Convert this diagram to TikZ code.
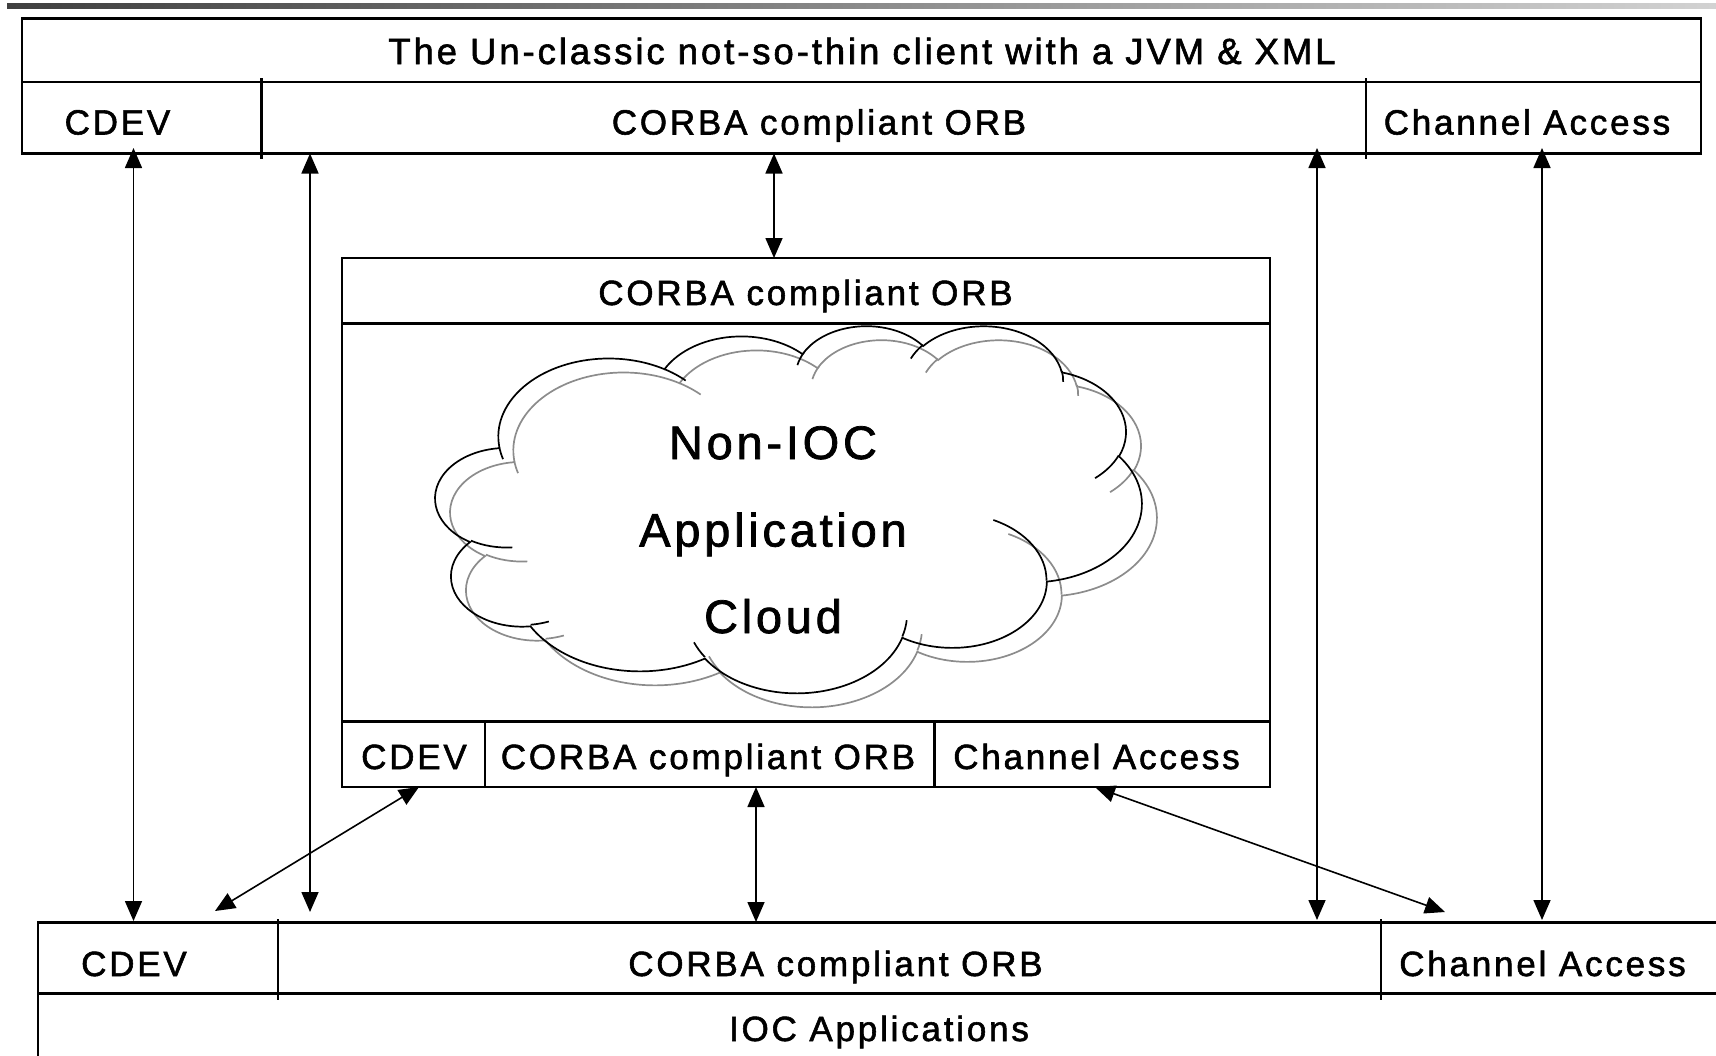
\documentclass[tikz,border=0pt]{standalone}
\usepackage{fontspec}
\setmainfont{Liberation Sans}[LetterSpace=8, FakeBold=1.6]
\usetikzlibrary{arrows.meta}
\def\cloudsx{1.634259}
\def\cloudsy{0.849537}
\pgfdeclarehorizontalshading{topbar}{100bp}{color(0bp)=(black!85); color(25bp)=(black!75); color(55bp)=(black!40); color(80bp)=(black!12); color(100bp)=(black!4)}
\newcommand\cldcalc[4]{%
  \pgfmathparse{atan2((#1)*sin(#3),(#2)*cos(#3))}\let\cTa\pgfmathresult
  \pgfmathparse{atan2((#1)*sin((#3)+(#4)),(#2)*cos((#3)+(#4)))}\let\cTb\pgfmathresult
  \pgfmathparse{\cTb+360*((#4)>0)*(\cTb<\cTa)-360*((#4)<0)*(\cTb>\cTa)}\let\cTb\pgfmathresult
  \pgfmathparse{0-(\cTa)}\xdef\cldA{\pgfmathresult}%
  \pgfmathparse{0-(\cTb)}\xdef\cldB{\pgfmathresult}%
  \pgfmathparse{(#1)*\cloudsx}\xdef\cldRX{\pgfmathresult}%
  \pgfmathparse{(#2)*\cloudsy}\xdef\cldRY{\pgfmathresult}}
\newcommand\cldarc[4]{\pgfextra{\cldcalc{#1}{#2}{#3}{#4}} arc[start angle=\cldA, end angle=\cldB, x radius=\cldRX pt, y radius=\cldRY pt]}
\newcommand\cloudpath[3]{%
\draw[#3] ({#1+39.00*\cloudsx},{#2+143.70*\cloudsy})
  \cldarc{67.53}{91.90}{-190.4875}{123.7805}
  \cldarc{53.33}{72.67}{-144.1024}{89.9452}
  \cldarc{43.65}{59.45}{-145.8079}{99.7230}
  \cldarc{48.57}{65.95}{-130.9861}{117.2417}
  \cldarc{53.33}{72.73}{-78.7089}{109.0269}
  \cldarc{67.75}{92.20}{-46.2673}{130.2690}
  \cldarc{57.85}{78.67}{0.6250}{114.0333}
  \cldarc{67.52}{92.15}{22.4516}{115.1726}
  \cldarc{77.20}{105.43}{66.2426}{75.7110}
  \cldarc{43.60}{59.18}{-274.9421}{146.7356}
  \cldarc{43.45}{59.45}{-246.8285}{152.5189}
  -- cycle;
\draw[#3]
  ({#1+46.93*\cloudsx},{#2+261.77*\cloudsy}) \cldarc{43.45}{59.45}{86.7420}{26.4295}
  ({#1+69.28*\cloudsx},{#2+348.99*\cloudsy}) \cldarc{43.60}{59.18}{73.6105}{11.4475}
  ({#1+164.78*\cloudsx},{#2+390.90*\cloudsy}) \cldarc{67.52}{92.15}{137.6242}{14.0811}
  ({#1+288.27*\cloudsx},{#2+347.51*\cloudsy}) \cldarc{67.52}{92.15}{6.4533}{15.9984}
  ({#1+341.29*\cloudsx},{#2+229.54*\cloudsy}) \cldarc{57.85}{78.67}{-70.2924}{70.9174}
  ({#1+417.98*\cloudsx},{#2+153.54*\cloudsy}) \cldarc{53.33}{72.73}{30.3180}{27.7515}
  ({#1+383.24*\cloudsx},{#2+54.26*\cloudsy}) \cldarc{48.57}{65.95}{-13.7443}{14.8589}
  ({#1+290.78*\cloudsx},{#2+39.52*\cloudsy}) \cldarc{48.57}{65.95}{-149.1815}{18.1954}
  ({#1+221.41*\cloudsx},{#2+47.20*\cloudsy}) \cldarc{43.65}{59.45}{-163.4943}{19.0160}
  ({#1+140.00*\cloudsx},{#2+51.92*\cloudsy}) \cldarc{67.53}{91.90}{-66.7070}{12.3194}
  ({#1+41.27*\cloudsx},{#2+157.89*\cloudsy}) \cldarc{67.53}{91.90}{157.6544}{11.8582};
}
\begin{document}
\begin{tikzpicture}[x=1pt,y=-1pt,
  box/.style={line width=2.2pt, draw=black},
  lbl/.style={anchor=base, inner sep=0pt, font=\fontsize{35}{42}\selectfont},
  ttl/.style={anchor=base, inner sep=0pt, font=\fontsize{36.5}{44}\selectfont},
  big/.style={anchor=base, inner sep=0pt, font=\fontsize{47}{56}\selectfont},
  dbl/.style={line width=1.6pt, {Triangle[length=20pt,width=17pt]}-{Triangle[length=20pt,width=17pt]}},
  cloudline/.style={line width=1.7pt, draw=black},
  cloudshadow/.style={line width=1.7pt, draw=black!45}]
\useasboundingbox (0,0) rectangle (1716,1055);
\clip (0,0) rectangle (1716,1055);
\shade[shading=topbar] (7,3) rectangle (1716,8);
% top box
\draw[box] (22,18.5) rectangle (1701,153.5);
\draw[box] (22,82) -- (1701,82);
\draw[box] (261.5,78) -- (261.5,159);
\draw[box] (1366,78) -- (1366,159);
% middle box
\draw[box] (342,258) rectangle (1270,787);
\draw[box] (342,323.5) -- (1270,323.5);
\draw[box] (342,721.5) -- (1270,721.5);
\draw[box] (485,721.5) -- (485,787);
\draw[box] (934.5,721.5) -- (934.5,787);
% bottom box
\draw[box] (1730,922.5) -- (38,922.5) -- (38,1062);
\draw[box] (38,993.5) -- (1730,993.5);
\draw[box] (278,919) -- (278,1000);
\draw[box] (1381,919) -- (1381,1000);
% cloud
\cloudpath{450.6}{339}{cloudshadow}
\cloudpath{435.6}{325}{cloudline}
% labels
\node[ttl] (title) at (862,64) {The Un-classic not-so-thin client with a JVM \& XML};
\node[lbl] (tcdev) at (117.5,134.5) {CDEV};
\node[lbl] (torb) at (819,134.5) {CORBA compliant ORB};
\node[lbl] (tca) at (1527,134.5) {Channel Access};
\node[lbl] (morbtop) at (805.5,305) {CORBA compliant ORB};
\node[lbl] (mcdev) at (414,769) {CDEV};
\node[lbl] (morb) at (708,769) {CORBA compliant ORB};
\node[lbl] (mca) at (1096.5,769) {Channel Access};
\node[big] (c1) at (773,459) {Non-IOC};
\node[big] (c2) at (773,546.5) {Application};
\node[big] (c3) at (773,633) {Cloud};
\node[lbl] (bcdev) at (134,976) {CDEV};
\node[lbl] (borb) at (835.5,976) {CORBA compliant ORB};
\node[lbl] (bca) at (1542.5,976) {Channel Access};
\node[lbl] (ioc) at (879,1041) {IOC Applications};
% arrow end points
\coordinate (a1t) at (133.5,148);  \coordinate (a1b) at (133.5,921);
\coordinate (a2t) at (310,153.5);  \coordinate (a2b) at (310,912);
\coordinate (a3t) at (774,153.5);  \coordinate (a3b) at (774,258);
\coordinate (a4t) at (1317,148);   \coordinate (a4b) at (1317,920);
\coordinate (a5t) at (1542,148);   \coordinate (a5b) at (1542,920);
\coordinate (a6t) at (419,787);    \coordinate (a6b) at (215,911);
\coordinate (a7t) at (756,787);    \coordinate (a7b) at (756,922);
\coordinate (a8t) at (1095,787);   \coordinate (a8b) at (1445,912);
\draw[dbl] (a1t) -- (a1b);
\draw[dbl] (a2t) -- (a2b);
\draw[dbl] (a3t) -- (a3b);
\draw[dbl] (a4t) -- (a4b);
\draw[dbl] (a5t) -- (a5b);
\draw[dbl] (a6t) -- (a6b);
\draw[dbl] (a7t) -- (a7b);
\draw[dbl] (a8t) -- (a8b);
\end{tikzpicture}
\end{document}
